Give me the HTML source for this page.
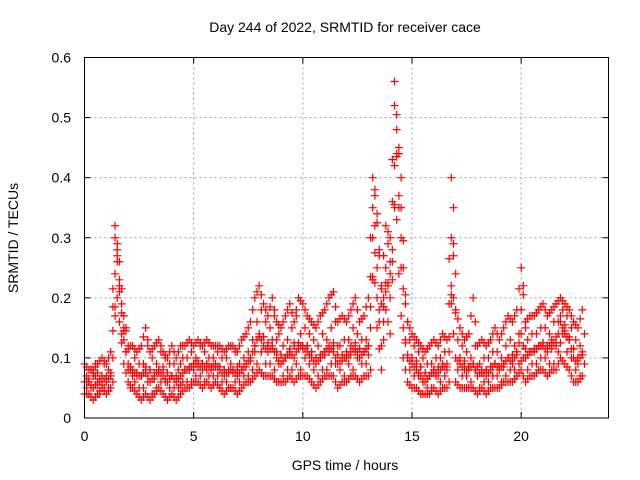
<!DOCTYPE html>
<html><head><meta charset="utf-8"><style>
html,body{margin:0;padding:0;background:#fff;}
svg{display:block;font-family:"Liberation Sans",sans-serif;}
</style></head><body>
<svg id="chart" width="640" height="480">
<text x="345" y="32" text-anchor="middle" font-size="14" fill="#000">Day 244 of 2022, SRMTID for receiver cace</text>
<text x="345" y="470" text-anchor="middle" font-size="14">GPS time / hours</text>
<text transform="translate(18,238) rotate(-90)" text-anchor="middle" font-size="14">SRMTID / TECUs</text>
<g id="grid"></g><g id="marks"></g>
<rect x="84.5" y="57.5" width="524" height="360.5" fill="none" stroke="#000" stroke-width="1"/>
</svg>
<script>
const hours=[0,0.2,0.4,0.6,0.8,1.0,1.2,1.4,1.6,1.8,2.0,2.2,2.4,2.6,2.8,3.0,3.2,3.4,3.6,3.8,4.0,4.2,4.4,4.6,4.8,5.0,5.2,5.4,5.6,5.8,6.0,6.2,6.4,6.6,6.8,7.0,7.2,7.4,7.6,7.8,8.0,8.2,8.4,8.6,8.8,9.0,9.2,9.4,9.6,9.8,10.0,10.2,10.4,10.6,10.8,11.0,11.2,11.4,11.6,11.8,12.0,12.2,12.4,12.6,12.8,13.0,13.2,13.4,13.6,13.8,14.0,14.2,14.4,14.6,14.8,15.0,15.2,15.4,15.6,15.8,16.0,16.2,16.4,16.6,16.8,17.0,17.2,17.4,17.6,17.8,18.0,18.2,18.4,18.6,18.8,19.0,19.2,19.4,19.6,19.8,20.0,20.2,20.4,20.6,20.8,21.0,21.2,21.4,21.6,21.8,22.0,22.2,22.4,22.6,22.8];
const hoursB=[0.1,0.3,0.5,0.7,0.9,1.1,1.3,1.5,1.7,1.9,2.1,2.3,2.5,2.7,2.9,3.1,3.3,3.5,3.7,3.9,4.1,4.3,4.5,4.7,4.9,5.1,5.3,5.5,5.7,5.9,6.1,6.3,6.5,6.7,6.9,7.1,7.3,7.5,7.7,7.9,8.1,8.3,8.5,8.7,8.9,9.1,9.3,9.5,9.7,9.9,10.1,10.3,10.5,10.7,10.9,11.1,11.3,11.5,11.7,11.9,12.1,12.3,12.5,12.7,12.9,13.1,13.3,13.5,13.7,13.9,14.1,14.3,14.5,14.7,14.9,15.1,15.3,15.5,15.7,15.9,16.1,16.3,16.5,16.7,16.9,17.1,17.3,17.5,17.7,17.9,18.1,18.3,18.5,18.7,18.9,19.1,19.3,19.5,19.7,19.9,20.1,20.3,20.5,20.7,20.9,21.1,21.3,21.5,21.7,21.9,22.1,22.3,22.5,22.7,22.9];
const midVals=[0.06,0.06,0.05,0.06,0.07,0.06,0.07,0.30,0.22,0.13,0.09,0.08,0.07,0.07,0.08,0.06,0.07,0.08,0.07,0.06,0.07,0.06,0.07,0.08,0.08,0.09,0.09,0.08,0.09,0.08,0.09,0.08,0.07,0.08,0.08,0.07,0.08,0.09,0.10,0.12,0.14,0.12,0.11,0.12,0.10,0.09,0.10,0.11,0.10,0.12,0.12,0.11,0.10,0.09,0.10,0.11,0.12,0.11,0.09,0.10,0.10,0.11,0.12,0.10,0.11,0.12,0.35,0.20,0.12,0.25,0.20,0.52,0.35,0.15,0.10,0.09,0.08,0.07,0.06,0.07,0.08,0.07,0.09,0.08,0.30,0.10,0.09,0.08,0.08,0.09,0.07,0.08,0.07,0.08,0.09,0.08,0.09,0.10,0.09,0.11,0.14,0.10,0.11,0.11,0.12,0.12,0.11,0.13,0.12,0.16,0.14,0.13,0.10,0.09,0.11];
const highVals=[0.09,0.08,0.08,0.09,0.10,0.09,0.11,0.32,0.26,0.17,0.12,0.12,0.11,0.12,0.15,0.11,0.12,0.13,0.11,0.10,0.12,0.10,0.12,0.12,0.13,0.12,0.13,0.12,0.13,0.12,0.12,0.12,0.11,0.12,0.12,0.11,0.13,0.14,0.16,0.20,0.22,0.19,0.17,0.20,0.16,0.15,0.17,0.19,0.16,0.20,0.19,0.17,0.16,0.15,0.17,0.18,0.20,0.21,0.16,0.17,0.16,0.18,0.20,0.16,0.17,0.20,0.40,0.34,0.22,0.32,0.30,0.56,0.45,0.25,0.16,0.14,0.13,0.12,0.11,0.12,0.13,0.12,0.14,0.13,0.40,0.18,0.15,0.13,0.14,0.20,0.12,0.13,0.12,0.13,0.15,0.13,0.15,0.17,0.16,0.18,0.25,0.16,0.17,0.17,0.18,0.19,0.17,0.18,0.19,0.20,0.19,0.18,0.16,0.15,0.18];
const lowVals=[0.04,0.04,0.03,0.04,0.05,0.04,0.05,0.24,0.16,0.09,0.06,0.05,0.04,0.03,0.04,0.03,0.04,0.05,0.04,0.03,0.04,0.03,0.04,0.05,0.05,0.06,0.06,0.05,0.06,0.05,0.06,0.05,0.04,0.05,0.05,0.04,0.05,0.06,0.06,0.07,0.08,0.07,0.07,0.07,0.06,0.06,0.06,0.07,0.06,0.07,0.07,0.07,0.06,0.05,0.06,0.07,0.07,0.07,0.05,0.06,0.06,0.07,0.07,0.06,0.07,0.07,0.30,0.15,0.08,0.18,0.14,0.42,0.24,0.10,0.06,0.05,0.05,0.04,0.04,0.04,0.05,0.04,0.05,0.05,0.22,0.06,0.05,0.05,0.05,0.05,0.04,0.05,0.04,0.05,0.05,0.05,0.06,0.06,0.06,0.07,0.08,0.06,0.07,0.07,0.08,0.08,0.07,0.08,0.08,0.10,0.09,0.08,0.06,0.06,0.07];
const spreadA=[0.05,0.08,0.07,0.04,0.09,0.05,0.10,0.27,0.19,0.11,0.05,0.10,0.05,0.09,0.06,0.10,0.05,0.11,0.06,0.09,0.05,0.08,0.10,0.06,0.11,0.07,0.12,0.06,0.10,0.07,0.11,0.06,0.10,0.05,0.11,0.06,0.10,0.07,0.13,0.09,0.18,0.09,0.15,0.08,0.14,0.07,0.13,0.08,0.17,0.08,0.15,0.09,0.13,0.07,0.14,0.08,0.15,0.09,0.12,0.07,0.13,0.08,0.14,0.09,0.13,0.08,0.38,0.27,0.16,0.29,0.23,0.48,0.40,0.19,0.13,0.07,0.11,0.06,0.09,0.05,0.10,0.06,0.11,0.06,0.35,0.13,0.07,0.11,0.06,0.12,0.05,0.10,0.06,0.11,0.07,0.10,0.07,0.13,0.08,0.14,0.22,0.08,0.14,0.09,0.15,0.10,0.14,0.09,0.16,0.18,0.11,0.15,0.08,0.12,0.09];
const spreadB=[0.07,0.05,0.09,0.06,0.05,0.08,0.06,0.28,0.14,0.15,0.08,0.06,0.09,0.05,0.12,0.04,0.09,0.06,0.10,0.05,0.09,0.05,0.06,0.10,0.06,0.10,0.07,0.11,0.07,0.10,0.07,0.10,0.06,0.09,0.06,0.09,0.07,0.11,0.08,0.16,0.11,0.16,0.09,0.17,0.09,0.12,0.08,0.15,0.09,0.14,0.10,0.14,0.08,0.12,0.08,0.13,0.09,0.16,0.08,0.13,0.09,0.15,0.10,0.13,0.09,0.15,0.32,0.18,0.20,0.22,0.26,0.44,0.30,0.13,0.08,0.12,0.07,0.10,0.05,0.09,0.07,0.10,0.07,0.11,0.27,0.08,0.12,0.07,0.10,0.08,0.09,0.06,0.10,0.07,0.11,0.06,0.12,0.08,0.12,0.09,0.10,0.13,0.09,0.14,0.10,0.15,0.09,0.16,0.11,0.14,0.17,0.10,0.13,0.07,0.14];
const xTicks=[0,5,10,15,20];
const yTicks=[0,0.1,0.2,0.3,0.4,0.5,0.6];
const yTickLabels=["0","0.1","0.2","0.3","0.4","0.5","0.6"];
const NS="http://www.w3.org/2000/svg";
function xs(h){return 84.5+h*(524/24);}
function ys(v){return 418-v*(360.5/0.6);}
const grid=document.getElementById('grid'),marks=document.getElementById('marks');
function mk(tag,attrs,parent){const e=document.createElementNS(NS,tag);for(const k in attrs)e.setAttribute(k,attrs[k]);parent.appendChild(e);return e;}
xTicks.forEach(t=>{
 const x=xs(t);
 if(t>0){const g=mk('line',{x1:x,y1:57.5,x2:x,y2:418,stroke:'#a0a0a0','stroke-dasharray':'2,3'},grid);
 
 }
 mk('line',{x1:x,y1:418,x2:x,y2:412,stroke:'#000'},grid);
 mk('line',{x1:x,y1:57.5,x2:x,y2:63.5,stroke:'#000'},grid);
 const l=mk('text',{x:x,y:441,'text-anchor':'middle','font-size':'14'},grid);l.textContent=t;
 
 
});
yTicks.forEach((t,i)=>{
 const y=ys(t);
 if(t>0&&t<0.6){const g=mk('line',{x1:84.5,y1:y,x2:608.5,y2:y,stroke:'#a0a0a0','stroke-dasharray':'2,3'},grid);
 
 }
 mk('line',{x1:84.5,y1:y,x2:90.5,y2:y,stroke:'#000'},grid);
 mk('line',{x1:608.5,y1:y,x2:602.5,y2:y,stroke:'#000'},grid);
 const l=mk('text',{x:71,y:y+5,'text-anchor':'end','font-size':'14'},grid);l.textContent=yTickLabels[i];
 
 
});
function cross(h,v){
 const x=xs(h),y=ys(v);
 const p=mk('path',{d:`M${x-4},${y}H${x+4}M${x},${y-4}V${y+4}`,stroke:'#ff0000','stroke-width':'1.2',fill:'none'},marks);
 
 
}
function plotSeries(ts,arr){
 const n=Math.min(arr.length,ts.length);
 for(let i=0;i<n;i++){
  cross(ts[i],arr[i]);
  if(i+1<n) cross((ts[i]+ts[i+1])/2,(arr[i]+arr[i+1])/2);
 }
}
plotSeries(hours,lowVals);
plotSeries(hours,midVals);
plotSeries(hours,highVals);
plotSeries(hoursB,spreadA);
plotSeries(hoursB,spreadB);
</script>
</body></html>
